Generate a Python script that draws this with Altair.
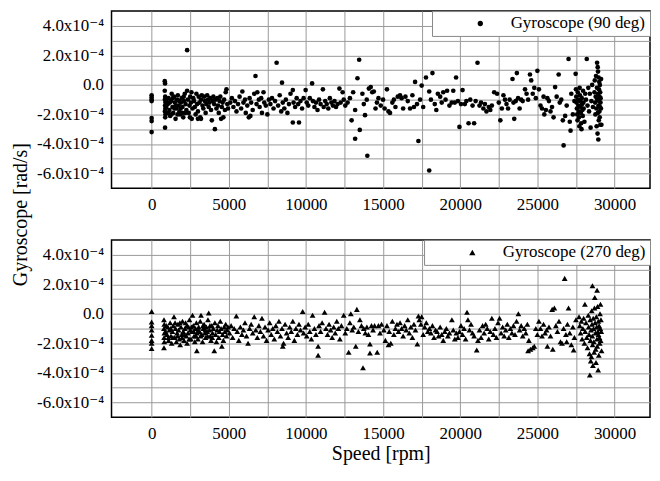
import altair as alt
import pandas as pd

FONT = "Liberation Serif, Times New Roman, Times, DejaVu Serif, serif"

series_90 = "Gyroscope (90 deg)"
series_270 = "Gyroscope (270 deg)"

# (speed [rpm], gyroscope [x1e-4 rad/s])
points_90 = [
    (0, -0.7), (0, -0.85), (0, -1.0), (0, -1.1), (0, -2.25), (0, -2.45), (0, -3.2),
    (850, 0.25), (870, 0.1), (850, -0.4), (880, -0.8), (860, -1.0), (900, -1.2), (870, -1.4),
    (890, -1.6), (860, -1.8), (900, -2.0), (880, -2.2), (870, -2.9), (950, -1.5), (950, -1.1),
    (1050, -1.3), (1100, -0.9), (1150, -1.7), (1200, -2.1), (1250, -1.1), (1300, -0.6), (1350, -1.5),
    (1400, -1.9), (1450, -0.8), (1500, -1.2), (1550, -2.3), (1600, -1.6), (1650, -1.0), (1700, -0.7),
    (1750, -1.4), (1800, -1.8), (1850, -2.0), (1900, -1.2), (1950, -0.9), (2000, -1.5), (2050, -2.2),
    (2100, -1.1), (2150, -0.6), (2200, -1.3), (2250, -1.7), (2300, 2.35), (2300, -0.4), (2350, -1.0),
    (2400, -1.9), (2450, -1.4), (2500, -0.8), (2550, -1.2), (2600, -2.3), (2650, -1.6), (2700, -0.9),
    (2750, -1.1), (2800, -1.5), (2850, -2.0), (2900, -0.6), (2950, -1.3), (3000, -1.8), (3000, -2.3),
    (3050, -0.8), (3100, -1.2), (3150, -2.2), (3200, -1.0), (3200, -2.3), (3250, -0.7), (3300, -1.4),
    (3350, -1.6), (3400, -0.8), (3450, -1.1), (3500, -1.9), (3550, -1.3), (3600, -0.7), (3650, -1.0),
    (3700, -1.5), (3750, -1.2), (3800, -0.9), (3850, -1.7), (3900, -2.4), (3950, -1.1), (4000, -0.8),
    (4050, -1.3), (4100, -3.0), (4150, -1.0), (4200, -1.6), (4250, -0.9), (4300, -1.4), (4350, -1.9),
    (4400, -1.1), (4450, -0.8), (4500, -2.3), (4550, -1.5), (4600, -1.2), (4650, -2.2), (4700, -1.0),
    (4750, -1.7), (4800, -0.5), (4850, -0.3), (4900, -1.3), (4950, -1.6),
    (1080, -1.9), (1180, -1.2), (1280, -2.0), (1380, -0.9), (1480, -1.6), (1580, -1.4), (1680, -2.0),
    (1780, -1.1), (1880, -1.6), (1980, -1.9), (2080, -0.8), (2180, -1.9), (2480, -2.2), (2580, -0.5),
    (5100, -1.2), (5200, -0.9), (5300, -1.5), (5400, -1.1), (5500, -1.8), (5600, -1.3), (5700, -0.8),
    (5800, -1.6), (5880, -0.45), (5950, -1.2), (6050, -1.0), (6100, -1.9), (6200, -1.4), (6300, -2.2),
    (6350, -0.9), (6400, -2.1), (6450, -1.2), (6550, -1.7), (6650, -0.6), (6730, 0.6), (6800, -1.3),
    (6850, -0.5), (6950, -1.0), (7000, -1.5), (7100, -0.9), (7150, -1.9), (7250, -0.5), (7300, -1.2),
    (7400, -1.4), (7500, -2.0), (7600, -1.0), (7700, -1.3), (7800, -0.9), (7900, -1.6), (8000, -1.1),
    (8100, 1.5), (8200, -1.4), (8300, -0.7), (8400, -1.8), (8450, 0.15), (8500, -1.2),
    (8600, -1.6), (8700, -1.0), (8800, -1.9), (8900, -1.3), (9000, -0.6), (9150, -0.35), (9150, -2.55),
    (9200, -1.2), (9300, -1.5), (9400, -0.9), (9500, -1.3), (9550, -2.55), (9650, -1.1), (9750, -1.6),
    (9850, -0.9), (9980, -0.35), (10050, -1.2), (10150, -1.4), (10250, -0.9), (10400, 0.1), (10450, -1.1),
    (10550, -1.5), (10650, -1.2), (10750, -1.7), (10850, -1.0), (10950, -1.3), (11100, -0.3), (11150, -1.5),
    (11250, -1.1), (11350, -1.3), (11450, -1.6), (11550, -0.9), (11650, -1.2), (11750, -1.4), (11850, -1.1),
    (11950, -1.5), (12050, -1.3), (12170, -0.25), (12250, -1.2), (12380, -0.5), (12450, -1.0), (12550, -1.4),
    (12700, -1.2), (12850, -0.9), (12960, -2.4), (13060, -0.5), (13190, -1.7), (13190, -3.65), (13340, 0.45),
    (13450, 1.7), (13490, -3.05), (13660, -0.6), (13750, -1.3), (13830, -2.05), (13940, -1.0), (13980, -4.8),
    (14080, -0.25), (14200, -0.15), (14300, -0.5), (14400, -0.45), (14510, -1.6), (14600, -1.2), (14700, -0.9),
    (14850, -1.4), (15000, -1.0), (15100, -1.6), (15250, -0.3), (15350, -1.8), (15450, -1.9), (15600, -1.2),
    (15700, -1.0), (15800, -1.5), (15950, -0.8), (16100, -0.7), (16200, -0.9), (16300, -1.6), (16450, -0.8),
    (16600, -1.1), (16750, -1.6), (16900, -0.7), (17000, -1.5), (17075, 0.2), (17200, -1.3), (17290, -3.8),
    (17400, -1.0), (17500, -0.05), (17600, -1.5), (17780, 0.5), (17990, -0.45), (17990, -5.8), (18100, -1.0),
    (18200, 0.8), (18350, -1.3), (18450, -1.7), (18550, -0.6), (18700, -0.8), (18800, -1.2), (18900, -0.5),
    (19050, -1.0), (19150, -0.4), (19300, -1.4), (19450, -1.2), (19550, -0.4), (19650, -1.2), (19730, 0.5),
    (19850, -1.1), (19950, -2.85), (20050, -1.3), (20150, -0.35), (20300, -1.3), (20400, -1.1), (20540, -2.6),
    (20650, -1.0), (20800, -1.4), (20900, -2.6), (21000, -1.1), (21120, 1.5), (21250, -1.4), (21350, -1.2),
    (21500, -1.6), (21600, -1.3), (21700, -1.8), (21850, -1.5), (21950, -1.7), (22050, -1.4), (22200, -0.5),
    (22390, -0.6), (22500, -1.2), (22600, -2.4), (22700, -1.6), (22800, -0.7), (22900, -1.0), (23000, -1.3),
    (23100, -1.6), (23200, -1.0), (23390, 0.4), (23450, -1.2), (23500, -2.3), (23600, -1.1), (23670, 0.8),
    (23750, -0.9), (23850, -1.6), (23950, -1.0), (24050, -1.1), (24200, -0.3), (24300, -0.6), (24400, -1.0),
    (24520, 0.7), (24600, 0.3), (24700, -0.6), (24800, -0.2), (24900, -0.9), (25000, 0.95), (25100, -0.3),
    (25200, -1.4), (25300, -1.6), (25400, -0.8), (25450, -2.0), (25550, -1.7), (25650, -0.9), (25750, -1.1),
    (25850, -1.8), (25950, -1.5), (26050, -2.2), (26150, -0.15), (26250, -0.8), (26380, 0.7), (26450, -1.2),
    (26550, -1.0), (26650, -2.4), (26700, -4.1), (26800, -2.1), (26900, -1.4), (27020, 1.75), (27100, -2.5),
    (27150, -3.1), (27200, -0.6), (27300, -2.0), (27400, -1.1),
    (27480, 0.75), (27500, -0.3), (27520, -0.8), (27540, -1.2), (27560, -1.6), (27580, -2.0), (27600, -2.4),
    (27620, -0.5), (27640, -1.0), (27660, -1.4), (27680, -1.8), (27700, -2.2), (27720, -2.8), (27740, -0.2),
    (27760, -0.7), (27780, -1.1), (27800, -1.5), (27820, -1.9), (27840, -2.6), (27860, -3.0), (27880, -0.9),
    (27900, -1.3), (27920, -1.7), (27940, -2.1), (27960, -0.4), (27980, -1.2), (28000, -1.6), (28050, -2.5),
    (28100, -0.6), (28150, -1.0), (28200, 1.75), (28250, -1.4), (28300, -0.2), (28350, -1.8), (28400, -0.6),
    (28450, -2.9), (28500, -1.1), (28550, 0.0), (28600, -1.5),
    (28700, -0.5), (28720, 0.3), (28740, -1.2), (28760, -2.0), (28780, -0.8), (28800, 0.6), (28820, -1.6),
    (28840, -2.8), (28860, -0.2), (28870, 1.5), (28880, -1.0), (28900, -3.3), (28910, 1.2), (28920, -1.9),
    (28930, 0.9), (28940, -0.6), (28950, -3.7), (28960, -1.4), (28970, 0.5), (28980, -2.4), (28990, -0.3),
    (29000, -1.1), (29010, 0.2), (29020, -1.8), (29030, -0.8), (29040, -2.2), (29050, 0.0), (29060, -1.5),
    (29070, -0.5), (29080, -2.7), (29090, -1.2), (29100, -0.9), (29150, -2.7), (29120, -1.6), (29130, 0.4),
]

points_270 = [
    (0, 0.15), (0, -0.55), (0, -0.8), (0, -1.1), (0, -1.45), (0, -1.8), (0, -2.0), (0, -2.35),
    (800, -0.4), (820, -0.7), (800, -1.0), (830, -1.3), (810, -1.6), (820, -1.9), (800, -2.3), (900, -1.2),
    (950, -0.8),
    (1000, -1.4), (1050, -0.9), (1100, -1.8), (1150, -1.1), (1200, -0.6), (1250, -1.5), (1300, -2.0),
    (1350, -1.2), (1400, -0.8), (1450, -0.2), (1500, -1.6), (1550, -1.0), (1600, -1.9), (1650, -1.3),
    (1700, -0.7), (1750, -1.1), (1800, -1.7), (1850, -2.1), (1900, -0.9), (1950, -1.4), (2000, -0.5),
    (2050, -1.2), (2100, -1.8), (2150, -1.0), (2200, -0.6), (2250, -1.5), (2300, -2.0), (2350, -1.3),
    (2400, -0.9), (2450, -0.4), (2500, -1.1), (2550, -1.7), (2600, -1.2), (2650, -0.1), (2700, -0.8),
    (2750, -1.5), (2800, -1.9), (2850, -1.0), (2900, -0.6), (2930, -2.5), (2950, -1.3), (3000, -1.7),
    (3050, -0.9), (3100, -1.2), (3150, -0.5), (3200, -0.1), (3250, -1.4), (3300, -1.9), (3350, -1.0),
    (3400, -0.7), (3450, -1.3), (3500, -1.6), (3550, -0.9), (3600, -1.2), (3650, -0.4), (3700, 0.05),
    (3750, -1.1), (3800, -1.5), (3850, -1.8), (3900, -0.8), (3950, -1.3), (4000, -1.0), (4060, -2.5),
    (4100, -0.6), (4150, -1.4), (4200, -1.9), (4250, -1.1), (4300, -0.8), (4350, -1.6), (4400, -1.2),
    (4450, -0.5), (4500, -1.0), (4550, -2.2), (4600, -1.4), (4650, -1.8), (4700, -0.9), (4750, -1.2),
    (4800, -0.7), (4850, -1.5), (4900, -1.1), (4950, -0.9),
    (1080, -1.6), (1230, -1.0), (1380, -1.6), (1520, -0.6), (1680, -1.5), (1830, -0.6), (1980, -1.6),
    (2130, -1.4), (2280, -0.8), (2430, -1.7), (2580, -0.9), (2730, -1.2), (2880, -1.5), (3030, -1.1),
    (3180, -1.5), (3330, -0.8), (3480, -1.1), (3630, -1.5), (3780, -0.8), (3930, -1.6),
    (5050, -1.3), (5150, -0.8), (5250, -1.6), (5350, -1.0), (5490, -0.15), (5550, -1.2), (5650, -1.8),
    (5750, -0.9), (5850, -1.4), (5950, -1.1), (6050, -0.6), (6150, -1.5), (6250, -2.0), (6350, -1.0),
    (6450, -0.7), (6550, -1.3), (6650, -0.2), (6750, -1.1), (6850, -1.6), (6950, -0.8), (7050, -1.2),
    (7150, -0.3), (7250, -1.5), (7350, -0.9), (7450, -1.8), (7550, -1.1), (7650, -0.6), (7750, -1.4),
    (7850, -1.0), (7950, -1.7), (8050, -0.8), (8150, -1.2), (8250, -0.5), (8350, -1.5), (8450, -1.0),
    (8500, -2.2), (8550, -2.0), (8650, -0.7), (8750, -1.3), (8850, -1.6), (8950, -0.9), (9050, -1.2),
    (9150, -0.5), (9250, -1.8), (9350, -1.0), (9450, -1.4), (9550, -0.7), (9650, -1.1), (9790, 0.15),
    (9850, -1.3), (9950, -0.9),
    (10050, -1.5), (10150, -0.7), (10250, -1.2), (10350, -1.7), (10430, -0.1), (10550, -1.0), (10650, -1.4),
    (10790, -2.2), (10790, -2.8), (10850, -0.8), (10950, -1.2), (11050, -0.6), (11210, 0.1), (11300, -1.0),
    (11400, -1.4), (11500, -0.7), (11600, -1.1), (11700, -1.6), (11800, -0.9), (11900, -1.3), (12000, -0.5),
    (12100, -1.0), (12200, -1.7), (12300, -0.8), (12450, -0.1), (12550, -1.3), (12650, -1.0), (12770, -2.6),
    (12850, -0.6), (12910, 0.0), (13000, -1.1), (13100, -0.9), (13230, -2.2), (13300, 0.3), (13400, -1.2),
    (13500, -0.4), (13600, -0.8), (13700, -3.65), (13750, -1.0), (13850, -1.3), (13950, -0.9), (14050, -1.4),
    (14150, -2.05), (14150, -2.65), (14250, -0.8), (14350, -1.1), (14450, -0.8), (14620, -2.6), (14700, -0.8),
    (14800, -1.3), (14900, -0.7), (15050, -1.1), (15150, -1.8), (15250, -0.8), (15350, -2.1), (15400, -1.2),
    (15500, -2.0), (15600, -0.5), (15700, -1.4), (15800, -1.0), (15900, -0.7),
    (16000, -1.2), (16100, -0.6), (16200, -1.0), (16300, -1.5), (16400, -0.8), (16500, -1.1), (16600, -0.4),
    (16700, -1.3), (16800, -0.9), (16900, -1.6), (17000, -0.7), (17100, -1.1), (17220, -2.05), (17290, -0.15),
    (17350, -0.4), (17450, -0.7), (17500, -0.2), (17600, -1.4), (17700, -0.9), (17800, -0.6), (17900, -1.2),
    (18000, -1.0), (18100, -1.3), (18200, -0.8), (18300, -1.6), (18400, -1.1), (18500, -1.2), (18600, -1.5),
    (18700, -0.9), (18800, -1.4), (18900, -1.8), (19000, -1.2), (19100, -1.0), (19200, -1.5), (19300, -1.3),
    (19460, -0.4), (19550, -1.1), (19650, -1.7), (19750, -1.3), (19850, -1.6), (19950, -1.2),
    (20050, -0.8), (20150, -1.4), (20250, -1.0), (20350, -1.7), (20440, 0.1), (20500, -0.4), (20600, -1.1),
    (20700, -0.7), (20800, -1.3), (20900, -1.5), (21070, -2.45), (21150, -1.8), (21250, -1.1), (21350, -1.6),
    (21450, -0.8), (21550, -1.3), (21650, -0.7), (21750, -1.0), (21850, -1.7), (21950, -1.2), (22050, -0.3),
    (22150, -1.4), (22250, -1.0), (22350, -1.6), (22450, -0.6), (22550, -0.3), (22650, -1.3), (22750, -0.9),
    (22850, -1.5), (22950, -1.1), (23050, -0.7), (23150, -1.6), (23250, -1.0), (23350, -1.3), (23450, -0.8),
    (23550, -1.4), (23650, -0.5), (23770, 0.0), (23850, -1.1), (23950, -0.8), (24050, -1.5), (24150, -1.0),
    (24250, -1.3), (24350, -0.7), (24400, -2.5), (24450, -1.8), (24550, -2.4), (24700, -2.3), (24800, -2.2),
    (24900, -1.0), (25000, -1.4),
    (25100, -0.5), (25200, -1.0), (25300, -1.5), (25400, -0.7), (25500, -1.3), (25600, -1.1), (25650, -2.2),
    (25750, -0.9), (25850, -1.5), (25960, 0.3), (26000, -2.4), (26100, 0.4), (26200, -0.8), (26300, -1.2),
    (26400, -0.5), (26500, -1.9), (26600, -2.0), (26700, -1.0), (26770, 2.4), (26850, -1.4), (26900, -1.9),
    (26950, -0.7), (27020, 0.4), (27100, -1.3), (27200, -2.1), (27300, -0.9), (27350, -2.45), (27400, -1.6),
    (27500, -0.4),
    (27700, -0.2), (27750, -0.8), (27800, -1.3), (27850, -0.5), (27900, -1.7), (27950, -1.0), (28000, -0.3),
    (28050, -2.0), (28080, 0.65), (28100, -1.2), (28150, -0.6), (28200, -1.6), (28250, -2.3), (28300, -0.1),
    (28320, -0.9), (28350, -1.4), (28380, -2.7), (28400, -4.15), (28420, -0.4), (28440, -1.8), (28460, -3.2),
    (28480, -1.1), (28500, -2.9), (28520, 0.2), (28540, -0.7), (28560, -1.5), (28570, 1.9), (28580, -2.1),
    (28600, -3.5), (28620, -0.3), (28640, -1.0), (28660, -1.9), (28680, -2.6), (28700, 0.4), (28720, 1.1),
    (28740, -0.6), (28760, -1.3), (28780, -2.4), (28800, -3.3), (28820, -0.2), (28840, -0.9), (28860, -1.7),
    (28870, 1.6), (28880, -2.2), (28900, 0.5), (28920, -1.2), (28940, -3.8), (28950, -0.5), (28960, -1.4),
    (28980, -2.8), (29000, -0.8), (29020, -1.6), (29040, -2.0), (29060, 0.0), (29080, -1.0), (29090, 0.65),
    (29100, -1.8), (29120, -0.4), (29140, -1.2), (29160, -2.5),
]

x_domain = [-2600, 32300]
y_domain = [-7, 5]
x_grid = list(range(0, 30001, 2500))
y_grid = list(range(-6, 5))

x_label_expr = "datum.value % 5000 === 0 ? '' + datum.value : ''"
y_label_expr = (
    "(datum.value % 2 !== 0) ? '' : "
    "(datum.value === 0 ? '0.0' : (datum.value < 0 ? '-' : '') + "
    "format(abs(datum.value), '.1f') + 'x10\u207b\u2074')"
)

PANEL_W = 541
PANEL_H = 178


def panel(points, series, shape, size, bottom):
    df = pd.DataFrame(points, columns=["speed", "gyro"])
    df["series"] = series
    legend = alt.Legend(
        title=None, orient="top-right", offset=0, fillColor="white",
        strokeColor="#888888", padding=4, cornerRadius=0,
        labelFont=FONT, labelFontSize=17, labelColor="black", labelLimit=400,
        symbolSize=size + 6, symbolOffset=36, labelOffset=22, symbolStrokeWidth=0,
        labelExpr="datum.label + '\u00a0\u00a0\u00a0'",
    )
    if bottom:
        x_axis = alt.Axis(values=x_grid, labelExpr=x_label_expr, title="Speed [rpm]",
                          titleFontSize=20, titlePadding=3)
        y_axis = alt.Axis(values=y_grid, labelExpr=y_label_expr, title=None)
    else:
        x_axis = alt.Axis(values=x_grid, labelExpr=x_label_expr, title=None)
        y_axis = alt.Axis(values=y_grid, labelExpr=y_label_expr,
                          title="Gyroscope [rad/s]", titleFontSize=20,
                          titleAngle=270, titleX=-91, titleY=204,
                          titleAlign="center", titleBaseline="middle")
    return alt.Chart(df).mark_point(filled=True, size=size, opacity=1).encode(
        x=alt.X("speed:Q", scale=alt.Scale(domain=x_domain, nice=False, zero=False), axis=x_axis),
        y=alt.Y("gyro:Q", scale=alt.Scale(domain=y_domain, nice=False, zero=False), axis=y_axis),
        color=alt.Color("series:N", scale=alt.Scale(domain=[series], range=["black"]), legend=legend),
        shape=alt.Shape("series:N", scale=alt.Scale(domain=[series], range=[shape]), legend=legend),
    ).properties(width=PANEL_W, height=PANEL_H)


top = panel(points_90, series_90, "circle", 22, False)
bot = panel(points_270, series_270, "triangle-up", 34, True)

chart = alt.vconcat(top, bot, spacing=52, bounds="flush").resolve_scale(
    color="independent", shape="independent"
).properties(
    padding={"left": 2, "top": 0, "right": 0, "bottom": 0}
).configure_view(
    stroke="black", strokeWidth=1.5
).configure_axis(
    grid=True, gridColor="#999999", gridWidth=1, domain=False, ticks=False,
    labelFont=FONT, labelFontSize=17, labelColor="black", labelPadding=8,
    titleFont=FONT, titleColor="black", titleFontWeight="normal",
).configure_legend(
    labelFont=FONT
)

chart.save("out.html", embed_options={"renderer": "svg", "actions": False})
